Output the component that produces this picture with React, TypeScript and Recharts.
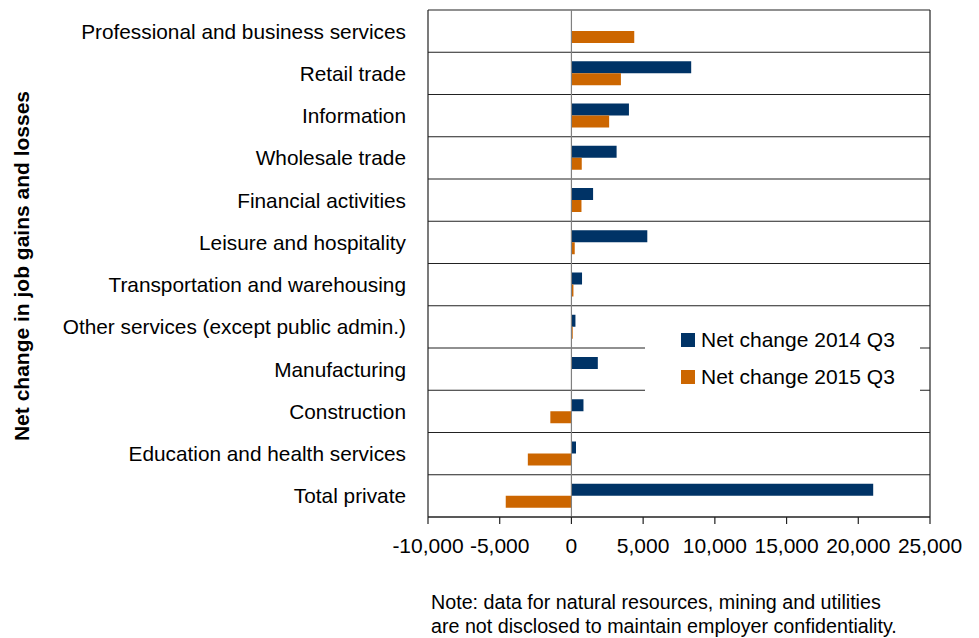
import { Bar, BarChart, CartesianGrid, Legend, ReferenceLine, XAxis, YAxis } from 'recharts'

const categories = [
  'Professional and business services',
  'Retail trade',
  'Information',
  'Wholesale trade',
  'Financial activities',
  'Leisure and hospitality',
  'Transportation and warehousing',
  'Other services (except public admin.)',
  'Manufacturing',
  'Construction',
  'Education and health services',
  'Total private',
]
const net2014 = [20, 8350, 4010, 3150, 1510, 5290, 740, 280, 1840, 840, 320, 21040]
const net2015 = [4380, 3450, 2630, 720, 700, 230, 140, 90, 0, -1470, -3040, -4580]
const xTicks = [-10000, -5000, 0, 5000, 10000, 15000, 20000, 25000]

const series = [
  { key: 'q2014', name: 'Net change 2014 Q3', color: '#003366' },
  { key: 'q2015', name: 'Net change 2015 Q3', color: '#cc6600' },
]

const data = categories.map((name, i) => ({ name, q2014: net2014[i], q2015: net2015[i] }))

const font = '"Liberation Sans", Arial, sans-serif'
const ink = '#000'
const line = '#222'

// row separators sit on the band edges of the category axis, not on its ticks
const rowEdges = ({ offset }: any) =>
  Array.from({ length: categories.length + 1 }, (_, i) => offset.top + (i * offset.height) / categories.length)

function LegendBox() {
  return (
    <div style={{ background: '#fff', width: 275, height: 78, boxSizing: 'border-box', paddingLeft: 36, paddingTop: 3 }}>
      {series.map((s) => (
        <div key={s.key} style={{ display: 'flex', alignItems: 'center', height: 37, fontSize: 21, color: ink }}>
          <span style={{ width: 14, height: 14, background: s.color, marginRight: 6, display: 'inline-block' }} />
          {s.name}
        </div>
      ))}
    </div>
  )
}

export default function App() {
  return (
    <div style={{ position: 'absolute', left: 0, top: 0, width: 979, height: 638, fontFamily: font, background: '#fff' }}>
      <BarChart
        width={979}
        height={638}
        data={data}
        layout="vertical"
        barSize={12}
        barGap={0}
        margin={{ top: 10, right: 49, bottom: 81, left: 0 }}
        style={{ fontFamily: font }}
      >
        <CartesianGrid vertical={false} horizontalCoordinatesGenerator={rowEdges} stroke={line} strokeWidth={1.2} />
        <XAxis
          type="number"
          domain={[-10000, 25000]}
          ticks={xTicks}
          interval={0}
          tickFormatter={(v) => Number(v).toLocaleString('en-US')}
          tick={{ fontSize: 21, fill: ink }}
          axisLine={{ stroke: line, strokeWidth: 1.2 }}
          tickLine={{ stroke: line, strokeWidth: 1.2 }}
          tickSize={7}
          tickMargin={14}
          height={40}
        />
        <YAxis
          type="category"
          dataKey="name"
          width={428}
          interval={0}
          tick={{ fontSize: 20.8, fill: ink }}
          axisLine={false}
          tickLine={false}
          tickMargin={16}
        />
        <ReferenceLine x={-10000} stroke={line} strokeWidth={1.2} />
        <ReferenceLine x={25000} stroke={line} strokeWidth={1.2} />
        <ReferenceLine x={0} stroke="#808080" strokeWidth={1.2} />
        {series.map((s) => (
          <Bar key={s.key} dataKey={s.key} name={s.name} fill={s.color} isAnimationActive={false} />
        ))}
        <Legend
          layout="vertical"
          align="center"
          verticalAlign="middle"
          content={() => <LegendBox />}
          wrapperStyle={{ left: 645, top: 318, width: 275 }}
        />
      </BarChart>
      <div
        style={{
          position: 'absolute',
          left: 22,
          top: 266,
          transform: 'translate(-50%, -50%) rotate(-90deg)',
          whiteSpace: 'nowrap',
          fontSize: 21,
          fontWeight: 'bold',
          color: ink,
        }}
      >
        Net change in job gains and losses
      </div>
      <div style={{ position: 'absolute', left: 431, top: 590, fontSize: 19.7, lineHeight: '24px', color: ink }}>
        Note: data for natural resources, mining and utilities
        <br />
        are not disclosed to maintain employer confidentiality.
      </div>
    </div>
  )
}
